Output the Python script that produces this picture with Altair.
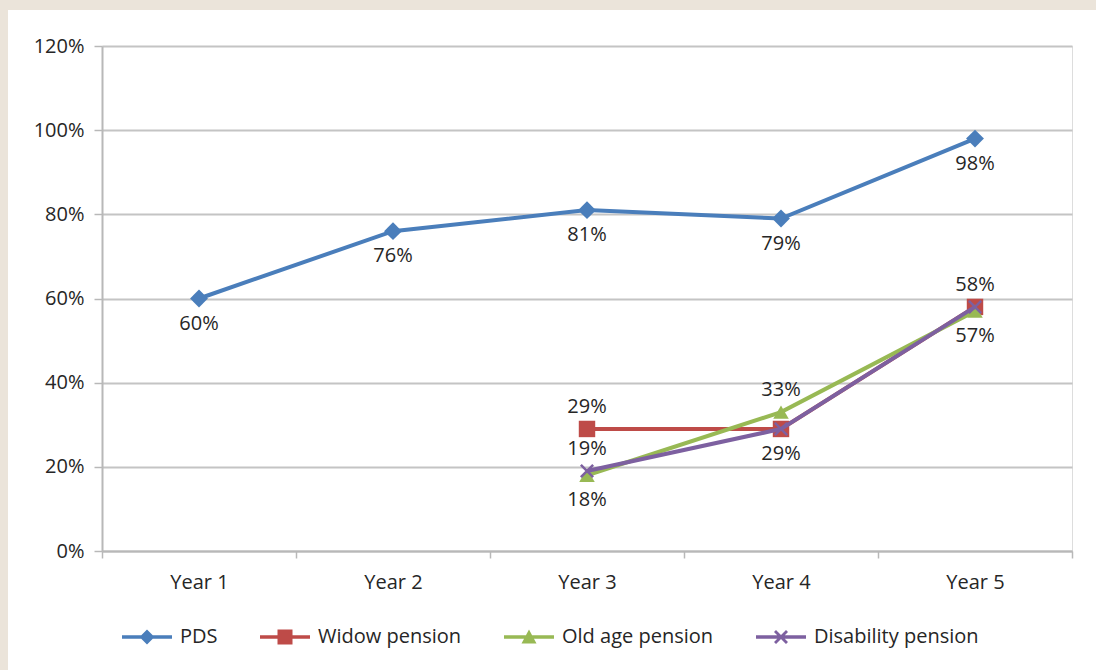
import altair as alt
import pandas as pd

# ---- data ----
years = ["Year 1", "Year 2", "Year 3", "Year 4", "Year 5"]
series = ["PDS", "Widow pension", "Old age pension", "Disability pension"]
pds = [60, 76, 81, 79, 98]
widow = [None, None, 29, 29, 58]
old_age = [None, None, 18, 33, 57]
disability = [None, None, 19, 29, 58]
values = {"PDS": pds, "Widow pension": widow, "Old age pension": old_age, "Disability pension": disability}

# which data points carry a visible label, and on which side
labels_above = {"Widow pension": ["Year 3", "Year 5"], "Old age pension": ["Year 4"], "Disability pension": ["Year 3"]}
labels_below = {"PDS": years, "Widow pension": ["Year 4"], "Old age pension": ["Year 3", "Year 5"]}

# ---- styling ----
colors = ["#4a7ebb", "#be4b48", "#98b954", "#7d60a0"]
FONT = "Open Sans"
TXT = "#262626"
legend_paths = [
    "M-1,-0.07H1V0.07H-1Z M0,-0.3L0.3,0L0,0.3L-0.3,0Z",
    "M-1,-0.07H1V0.07H-1Z M-0.3,-0.3H0.3V0.3H-0.3Z",
    "M-1,-0.07H1V0.07H-1Z M0,-0.3L0.3,0.26H-0.3Z",
    "M-1,-0.07H1V0.07H-1Z M-0.28,-0.2L-0.2,-0.28L0.28,0.2L0.2,0.28Z M0.2,-0.28L0.28,-0.2L-0.2,0.28L-0.28,0.2Z",
]

rows = []
for s in series:
    for y, v in zip(years, values[s]):
        if v is None:
            continue
        place = ""
        if y in labels_above.get(s, []):
            place = "above"
        elif y in labels_below.get(s, []):
            place = "below"
        rows.append({"year": y, "series": s, "value": v / 100.0, "place": place})
df = pd.DataFrame(rows)

x_enc = alt.X("year:N", sort=years, bandPosition=0.5,
              scale=alt.Scale(type="band", domain=years, paddingInner=0, paddingOuter=0),
              axis=alt.Axis(title=None, tickBand="extent", labelAngle=0, labelFontSize=20,
                            labelFont=FONT, labelColor=TXT, labelPadding=14, tickSize=7,
                            tickColor="#b8b8b8", tickWidth=1.5, domainColor="#b8b8b8",
                            domainWidth=2, grid=False))
y_enc = alt.Y("value:Q", scale=alt.Scale(domain=[0, 1.2]),
              axis=alt.Axis(title=None, values=[0, 0.2, 0.4, 0.6, 0.8, 1.0, 1.2], format=".0%",
                            labelFontSize=20, labelFont=FONT, labelColor=TXT, labelPadding=10,
                            tickSize=8, tickColor="#b8b8b8", tickWidth=1.5,
                            domainColor="#b8b8b8", domainWidth=2,
                            gridColor="#c4c4c4", gridWidth=2))
color_scale = alt.Scale(domain=series, range=colors)

base = alt.Chart(df)

strip = alt.Data(values=[{"k": 1}])
top_strip = alt.Chart(strip).mark_rect(color="#ebe4da").encode(
    x=alt.value(-102), x2=alt.value(994), y=alt.value(-46), y2=alt.value(-36))
left_strip = alt.Chart(strip).mark_rect(color="#ebe4da").encode(
    x=alt.value(-102), x2=alt.value(-94), y=alt.value(-46), y2=alt.value(624))

marker = {
    "PDS": dict(shape="diamond", filled=True, size=320),
    "Widow pension": dict(shape="square", filled=True, size=270),
    "Old age pension": dict(shape="triangle-up", filled=True, size=240),
    "Disability pension": dict(shape="M-1,-1L1,1M-1,1L1,-1", filled=False, size=150, strokeWidth=2.5),
}

layers = [top_strip, left_strip]
for s, col in zip(series, colors):
    sub = base.transform_filter(alt.datum.series == s)
    layers.append(sub.mark_line(strokeWidth=4, color=col).encode(x=x_enc, y=y_enc))
    layers.append(sub.mark_point(opacity=1, color=col, **marker[s]).encode(x=x_enc, y=y_enc))

txt_kw = dict(font=FONT, fontSize=20, color=TXT)
layers.append(base.transform_filter(alt.datum.place == "above").mark_text(dy=-22, **txt_kw)
              .encode(x=x_enc, y=y_enc, text=alt.Text("value:Q", format=".0%")))
layers.append(base.transform_filter(alt.datum.place == "below").mark_text(dy=25, **txt_kw)
              .encode(x=x_enc, y=y_enc, text=alt.Text("value:Q", format=".0%")))

legend = alt.Legend(title=None, orient="none", legendX=20, legendY=566, direction="horizontal",
                    symbolSize=2500, symbolStrokeWidth=0, labelFontSize=20, labelFont=FONT,
                    labelColor=TXT, labelOffset=8, labelLimit=400, columnPadding=42, padding=0)
dummy = base.transform_filter("false").mark_point(filled=True, opacity=1).encode(
    x=x_enc, y=y_enc,
    color=alt.Color("series:N", scale=color_scale, legend=legend),
    shape=alt.Shape("series:N", scale=alt.Scale(domain=series, range=legend_paths), legend=legend),
)
layers.append(dummy)

chart = alt.layer(*layers).properties(
    width=970, height=505,
    autosize=alt.AutoSizeParams(type="none"),
    padding={"left": 102, "top": 46, "right": 24, "bottom": 119},
    background="white",
).configure_view(stroke=None).configure(font=FONT)

chart.save("out.html", embed_options={"renderer": "svg", "actions": False})
